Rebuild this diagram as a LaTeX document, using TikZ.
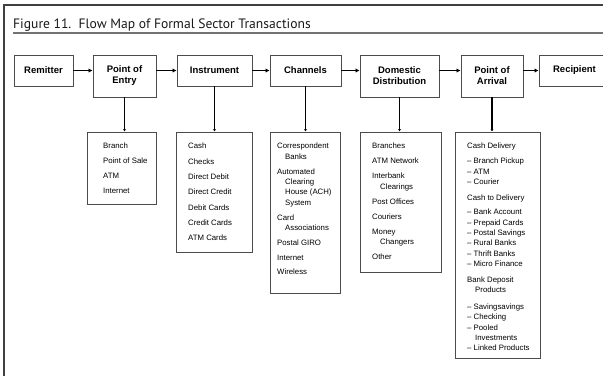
\documentclass[tikz,border=0pt]{standalone}
\usepackage{fontspec}
\setmainfont{Liberation Sans}
\newfontfamily\titlefont{PT Sans}
\usetikzlibrary{arrows.meta}
\begin{document}
\begin{tikzpicture}[x=1pt,y=-1pt,
  stagebox/.style={draw=black!70,line width=0.9pt,align=center,inner sep=0pt,
    font=\fontsize{9.5}{11}\selectfont\bfseries},
  listbox/.style={draw=black!70,line width=0.9pt,inner sep=0pt},
  listtext/.style={anchor=north west,align=left,inner sep=0pt,
    font=\fontsize{7.8}{10.4}\selectfont},
  flow/.style={line width=1.7pt,-{Latex[length=4pt,width=4.5pt]}},
  drop/.style={line width=1.3pt,-{Latex[length=2.5pt,width=3pt]}},
  frame/.style={line width=2.2pt,black!75}]
\useasboundingbox (0,0) rectangle (603,376);
\fill[white] (0,0) rectangle (603,376);

% outer frame and heading
\coordinate (frameTL) at (4,5);
\coordinate (frameTR) at (603,5);
\coordinate (frameBL) at (4,376);
\draw[frame] (frameBL) -- (frameTL) -- (frameTR);
\node[anchor=base west,inner sep=0pt,text=black!90,
  font=\titlefont\fontsize{13.6}{15}\selectfont] (title) at (13,28)
  {Figure 11.\ \ Flow Map of Formal Sector Transactions};
\coordinate (ruleL) at (13,33);
\coordinate (ruleR) at (603,33);
\draw[line width=1.3pt,black!55] (ruleL) -- (ruleR);

% stages of the transfer
\node[stagebox,minimum width=59pt,minimum height=31pt] (remitter) at (43.5,70.5) {Remitter};
\node[stagebox,minimum width=63pt,minimum height=42pt] (entry) at (124.5,76) {Point of\\Entry};
\node[stagebox,minimum width=75pt,minimum height=31pt] (instrument) at (214.5,70.5) {Instrument};
\node[stagebox,minimum width=71pt,minimum height=31pt] (channels) at (305.5,70.5) {Channels};
\node[stagebox,minimum width=79pt,minimum height=42pt] (domestic) at (399.5,76) {Domestic\\Distribution};
\node[stagebox,minimum width=62pt,minimum height=42pt] (arrival) at (492,76) {Point of\\Arrival};
\node[stagebox,minimum width=71pt,minimum height=31pt] (recipient) at (574.5,70.5) {Recipient};

\draw[flow] (remitter.east) -- (remitter.east -| entry.west);
\draw[flow] (entry.east |- instrument.west) -- (instrument.west);
\draw[flow] (instrument.east) -- (channels.west);
\draw[flow] (channels.east) -- (channels.east -| domestic.west);
\draw[flow] (domestic.east |- channels.east) -- (arrival.west |- channels.east);
\draw[flow] (arrival.east |- recipient.west) -- (recipient.west);

% option lists under each stage
\node[listbox,minimum width=69pt,minimum height=72pt] (entrylist) at (121.5,168) {};
\node[listbox,minimum width=76pt,minimum height=120pt] (instlist) at (214,192) {};
\node[listbox,minimum width=70pt,minimum height=161pt] (chanlist) at (305,212.5) {};
\node[listbox,minimum width=81pt,minimum height=140pt] (domlist) at (400.5,202) {};
\node[listbox,minimum width=85pt,minimum height=226pt] (arrlist) at (497.5,245) {};

\draw[drop] (entry.south) -- (entry.south |- entrylist.north);
\draw[drop] (instrument.south) -- (instrument.south |- instlist.north);
\draw[drop] (channels.south) -- (channels.south |- chanlist.north);
\draw[drop] (domestic.south) -- (domestic.south |- domlist.north);
\draw[drop] (arrival.south) -- (arrival.south |- arrlist.north);

\node[listtext] (entrytext) at (103,143)
  {Branch\\[4.6pt]Point of Sale\\[4.6pt]ATM\\[4.6pt]Internet};
\node[listtext] (insttext) at (188,143)
  {Cash\\[4.9pt]Checks\\[4.9pt]Direct Debit\\[4.9pt]Direct Credit\\[4.9pt]Debit Cards\\[4.9pt]Credit Cards\\[4.9pt]ATM Cards};
\node[listtext] (chantext) at (277,143)
  {Correspondent\\\hspace*{8pt}Banks\\[4.4pt]Automated\\\hspace*{8pt}Clearing\\\hspace*{8pt}House (ACH)\\\hspace*{8pt}System\\[4.4pt]Card\\\hspace*{8pt}Associations\\[4.4pt]Postal GIRO\\[4.4pt]Internet\\[4.4pt]Wireless};
\node[listtext] (domtext) at (372,143)
  {Branches\\[4.6pt]ATM Network\\[4.6pt]Interbank\\\hspace*{8pt}Clearings\\[4.6pt]Post Offices\\[4.6pt]Couriers\\[4.6pt]Money\\\hspace*{8pt}Changers\\[4.6pt]Other};
\node[listtext] (arrtext) at (467,143)
  {Cash Delivery\\[4.6pt]– Branch Pickup\\– ATM\\– Courier\\[5.4pt]Cash to Delivery\\[3.8pt]– Bank Account\\– Prepaid Cards\\– Postal Savings\\– Rural Banks\\– Thrift Banks\\– Micro Finance\\[5.4pt]Bank Deposit\\\hspace*{8pt}Products\\[6pt]– Savingsavings\\– Checking\\– Pooled\\\hspace*{8pt}Investments\\– Linked Products};
\end{tikzpicture}
\end{document}
